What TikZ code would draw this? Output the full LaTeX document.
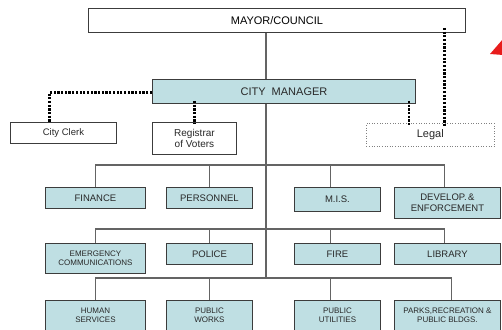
\documentclass[tikz,border=0pt]{standalone}
\usepackage{fontspec}
\setmainfont{Liberation Sans}
\usetikzlibrary{backgrounds}
\definecolor{boxfill}{RGB}{191,223,227}
\definecolor{linegray}{RGB}{100,100,100}
\definecolor{boxline}{RGB}{60,60,60}
\definecolor{txt}{RGB}{40,40,40}
\definecolor{tri}{RGB}{232,28,28}
\tikzset{
  base/.style={draw=boxline, line width=0.9pt, anchor=north west, inner sep=0pt, align=center, text=txt, font=\fontsize{9.5}{11}\selectfont},
  dept/.style={base, fill=boxfill},
  plain/.style={base, fill=white},
  small/.style={font=\fontsize{8}{9.5}\selectfont},
  big/.style={font=\fontsize{11}{12}\selectfont},
  conn/.style={draw=linegray, line width=1.4pt},
  dots/.style={draw=black, line width=2.5pt, dash pattern=on 2.2pt off 1.5pt},
}
\begin{document}
\begin{tikzpicture}[x=1pt,y=-1pt]
\useasboundingbox (0,0) rectangle (502,329);
\clip (0,0) rectangle (502,329);
% top
\node[plain, minimum width=377, minimum height=24, big, text=black] (mayor) at (88,8) {MAYOR/COUNCIL};
\node[dept, minimum width=263, minimum height=24, big] (cm) at (152,79) {CITY\ \ MANAGER};
\node[plain, minimum width=106, minimum height=21] (clerk) at (10,122) {City Clerk};
\node[plain, minimum width=84, minimum height=32, font=\fontsize{10}{11}\selectfont] (reg) at (152,122) {Registrar\\of Voters};
\node[base, fill=white, draw=gray, line width=0.6pt, dotted, minimum width=128, minimum height=23, big] (legal) at (366,123) {Legal};
% row 1
\node[dept, minimum width=100, minimum height=21] (fin) at (45,187) {FINANCE};
\node[dept, minimum width=86, minimum height=21] (per) at (166,187) {PERSONNEL};
\node[dept, minimum width=86, minimum height=24] (mis) at (294,187) {M.I.S.};
\node[dept, minimum width=106, minimum height=31] (dev) at (394,187) {DEVELOP.\,\&\\ENFORCEMENT};
% row 2
\node[dept, minimum width=100, minimum height=30, small] (emg) at (45,243) {EMERGENCY\\COMMUNICATIONS};
\node[dept, minimum width=86, minimum height=21] (pol) at (166,243) {POLICE};
\node[dept, minimum width=86, minimum height=21] (fire) at (294,243) {FIRE};
\node[dept, minimum width=106, minimum height=21] (lib) at (394,243) {LIBRARY};
% row 3 (boxes run past the bottom edge)
\node[dept, minimum width=100, minimum height=30, small] (hum) at (45,300) {HUMAN\\SERVICES};
\node[dept, minimum width=86, minimum height=30, small] (pw) at (166,300) {PUBLIC\\WORKS};
\node[dept, minimum width=86, minimum height=30, small] (pu) at (294,300) {PUBLIC\\UTILITIES};
\node[dept, minimum width=106, minimum height=30, small] (parks) at (394,300) {PARKS,RECREATION \&\\PUBLIC BLDGS.};
% red triangle
\fill[tri] (490,54) -- (503,39) -- (503,55) -- cycle;
% junctions
\coordinate (j1) at (266,165);
\coordinate (j2) at (266,229);
\coordinate (j3) at (266,278);
\begin{pgfonlayer}{background}
\draw[conn] (mayor.south -| j1) -- (j3);
\draw[conn] (fin.north) |- (j1) -| ([xshift=-3]dev.north);
\draw[conn] (per.north) -- (per.north |- j1);
\draw[conn] ([xshift=-7]mis.north) -- ([xshift=-7]mis.north |- j1);
\draw[conn] (emg.north) |- (j2) -| ([xshift=-3]lib.north);
\draw[conn] (pol.north) -- (pol.north |- j2);
\draw[conn] ([xshift=-7]fire.north) -- ([xshift=-7]fire.north |- j2);
\draw[conn] (hum.north) |- (j3) -| ([xshift=4]parks.north);
\draw[conn] (pw.north) -- (pw.north |- j3);
\draw[conn] ([xshift=-7]pu.north) -- ([xshift=-7]pu.north |- j3);
\end{pgfonlayer}
% dotted staff lines
\draw[dots] ([yshift=-1]cm.west) -| ([xshift=-14]clerk.north);
\draw[dots] ([yshift=3]reg.north |- cm.south) -- ([yshift=-2]reg.north);
\draw[dots] ([xshift=-7,yshift=3]cm.south east) -- ([xshift=-7,yshift=-3]cm.south east |- legal.north);
\draw[dots] ([xshift=14,yshift=5]legal.north |- mayor.south) -- ([xshift=14,yshift=-3]legal.north);
\end{tikzpicture}
\end{document}
